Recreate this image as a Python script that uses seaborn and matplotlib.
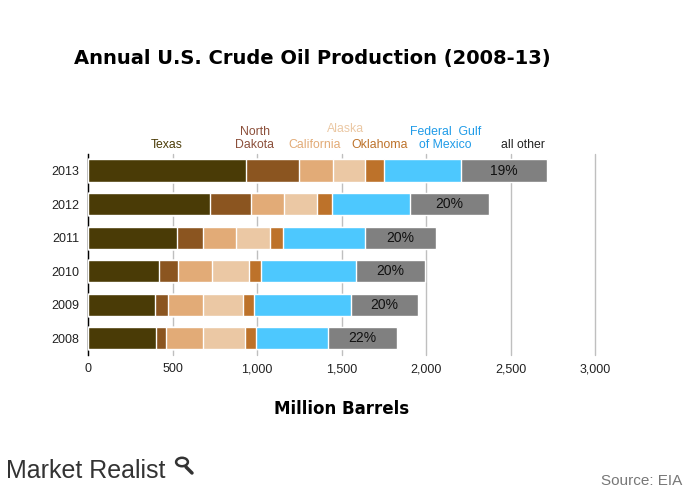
import pandas as pd
import matplotlib.pyplot as plt
import matplotlib.transforms as mtransforms
from matplotlib.patches import Circle
from matplotlib.lines import Line2D
from matplotlib.ticker import FixedLocator
import seaborn as sns

sns.set_style('white')
plt.rcParams['font.family'] = ['Liberation Sans', 'DejaVu Sans']

# data (million barrels)
years = ['2013', '2012', '2011', '2010', '2009', '2008']
texas = [935, 722, 527, 420, 396, 402]
north_dakota = [313, 242, 153, 113, 77, 60]
california = [202, 196, 196, 201, 207, 218]
alaska = [189, 195, 201, 219, 237, 249]
oklahoma = [112, 89, 77, 71, 65, 65]
gulf_mexico = [456, 461, 485, 562, 574, 426]
all_other = [509, 468, 420, 408, 397, 408]
other_share = ['19%', '20%', '20%', '20%', '20%', '22%']

regions = ['Texas', 'North Dakota', 'California', 'Alaska', 'Oklahoma',
           'Federal Gulf of Mexico', 'all other']
colors = ['#4a3b06', '#8b5520', '#e2ab77', '#ebc8a4', '#bd722a', '#4dc8fe', '#808080']
label_colors = ['#4a3b06', '#8b4f3a', '#e2ab77', '#ebc8a4', '#bd722a', '#1e9be8', '#222222']

df = pd.DataFrame({'year': years, 'Texas': texas, 'North Dakota': north_dakota,
                   'California': california, 'Alaska': alaska, 'Oklahoma': oklahoma,
                   'Federal Gulf of Mexico': gulf_mexico, 'all other': all_other})
cum = df[regions].cumsum(axis=1)
cum['year'] = df['year']

fig = plt.figure(figsize=(6.93, 4.96), dpi=100)
ax = fig.add_axes([0.127, 0.284, 0.732, 0.406])

# stacked bars: draw cumulative totals from the outermost segment inward
for reg, col in reversed(list(zip(regions, colors))):
    sns.barplot(data=cum, x=reg, y='year', order=years, color=col, width=0.66,
                saturation=1, orient='h', ax=ax, zorder=3)

for i, (tot, s) in enumerate(zip(cum['all other'], other_share)):
    mid = tot - all_other[i] / 2
    ax.text(mid, i, s, ha='center', va='center', fontsize=10, color='#111111', zorder=5)

ax.set_xlim(0, 3000)
ax.set_ylim(5.5, -0.5)
ax.set_xticks(range(0, 3001, 500))
ax.set_xticklabels(['0', '500', '1,000', '1,500', '2,000', '2,500', '3,000'])
ax.xaxis.grid(True, color='#bfbfbf', linewidth=1, zorder=0)
for gl in ax.get_xgridlines():
    gl.set_clip_on(False)
ax.set_axisbelow(True)
for side in ['top', 'right', 'bottom']:
    ax.spines[side].set_visible(False)
ax.spines['left'].set_color('black')
ax.spines['left'].set_linewidth(1)
ax.tick_params(axis='x', length=0, pad=6, labelsize=9, labelcolor='#222222')
ax.tick_params(axis='y', which='major', length=0, pad=6, labelsize=9, labelcolor='#222222')
ax.yaxis.set_minor_locator(FixedLocator([i + 0.5 for i in range(-1, 6)]))
ax.tick_params(axis='y', which='minor', length=4, width=1, color='black', direction='out')
ax.set_ylabel('')
ax.set_xlabel('Million Barrels', fontsize=12, fontweight='bold', family='DejaVu Sans',
              color='black', labelpad=18)

# segment labels above the top bar
trans = mtransforms.blended_transform_factory(ax.transData, fig.transFigure)
lbl = [('Texas', 464, 0.0), ('North\nDakota', 985, 0.0), ('California', 1343, 0.0),
       ('Alaska', 1521, 1.0), ('Oklahoma', 1722, 0.0),
       ('Federal  Gulf\nof Mexico', 2115, 0.0), ('all other', 2574, 0.0)]
for (txt, xpos, up), col in zip(lbl, label_colors):
    yb = 1 - 151 / 496 + up * 16 / 496
    ax.text(xpos, yb, txt, transform=trans, ha='center', va='bottom', fontsize=8.8,
            color=col, linespacing=1.15, clip_on=False)

fig.text(0.451, 0.883, 'Annual U.S. Crude Oil Production (2008-13)', ha='center',
         va='center', fontsize=14, fontweight='bold', family='DejaVu Sans', color='black')

# footer
fig.text(0.008, 0.05, 'Market Realist', ha='left', va='center', fontsize=18,
         color='#333333')
fig.patches.append(Circle((182 / 693, 1 - 462 / 496), 0.0085, transform=fig.transFigure,
                          facecolor='none', edgecolor='#333333', linewidth=1.8))
fig.lines.append(Line2D([186 / 693, 192 / 693], [1 - 467 / 496, 1 - 473 / 496],
                        transform=fig.transFigure, color='#333333', linewidth=2.5))
fig.text(0.985, 0.03, 'Source: EIA', ha='right', va='center', fontsize=11, color='#777777')

fig.savefig('out.png', dpi=100)
